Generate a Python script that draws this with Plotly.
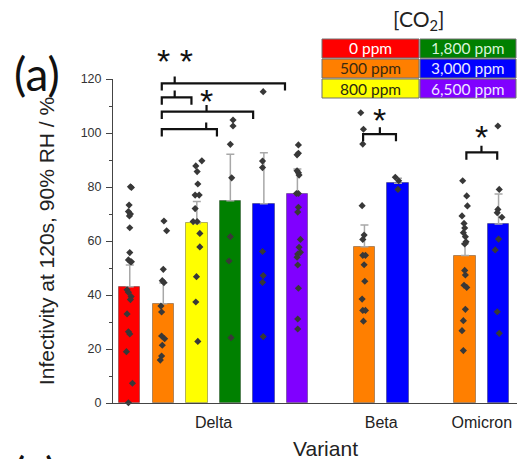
import plotly.graph_objects as go

# ---------------- data ----------------
variants = ["Delta", "Beta", "Omicron"]
conc_labels = ["0 ppm", "500 ppm", "800 ppm", "1,800 ppm", "3,000 ppm", "6,500 ppm"]
conc_colors = ["#FF0000", "#FF7F00", "#FFFF00", "#008000", "#0000FF", "#8000FF"]
legend_text_colors = ["#FFFFFF", "#3a2a10", "#2a2a10", "#d8f5d8", "#e8e8ff", "#f0e8ff"]

# concentrations (index into conc_labels) measured per variant
variant_conc = [[0, 1, 2, 3, 4, 5], [1, 4], [1, 4]]

# bar means and upper error per bar (in order Delta x6, Beta x2, Omicron x2)
bar_means = [43.1, 36.8, 66.5, 74.9, 73.8, 77.5, 57.9, 81.4, 54.6, 66.3]
bar_err = [8.0, 7.6, 8.1, 17.2, 18.9, 9.2, 8.0, 1.8, 4.5, 11.1]

# individual points per bar
pts = [
    [80.1, 79.8, 73.3, 70.9, 70.0, 69.3, 64.9, 55.7, 53.0, 52.3, 52.3, 41.9, 41.0, 39.4, 38.3, 33.0, 26.4, 25.6, 19.0, 7.3, 0.1],
    [67.4, 63.8, 49.5, 45.3, 44.6, 35.9, 33.7, 24.8, 23.8, 21.4, 17.4, 15.9],
    [89.7, 87.8, 85.7, 81.1, 77.0, 77.0, 72.0, 67.2, 67.2, 62.8, 57.8, 46.8, 37.4, 22.8],
    [104.8, 102.6, 95.8, 83.4, 61.6, 52.6, 24.2],
    [115.3, 89.6, 87.2, 56.1, 47.2, 44.7, 24.6],
    [95.6, 92.5, 91.9, 86.0, 85.3, 84.4, 77.6, 77.6, 72.5, 70.7, 60.6, 57.7, 55.8, 55.2, 54.0, 51.1, 42.5, 31.1, 27.4],
    [107.5, 101.4, 95.9, 73.1, 62.2, 60.6, 54.7, 54.7, 51.2, 45.1, 38.5, 34.3, 34.3, 30.3],
    [83.6, 82.3, 79.1],
    [82.3, 76.7, 73.0, 69.3, 66.5, 64.8, 63.1, 61.6, 59.7, 58.9, 49.1, 47.4, 43.6, 42.8, 34.7, 30.5, 26.8, 19.4],
    [102.6, 79.1, 71.7, 70.5, 68.8, 60.7, 56.7, 33.8, 25.8],
]
# horizontal jitter of each point (fraction of a bar slot)
jit = [
    [.02, .05, -.02, -.04, .02, -.01, 0, 0, -.04, .02, .05, -.08, -.04, .04, .02, -.08, -.04, 0, -.1, .08, -.04],
    [.02, .1, 0, -.03, .02, -.07, -.05, -.05, .04, -.03, -.05, -.09],
    [.15, -.03, .01, .03, -.05, .07, -.05, -.11, .01, .09, .09, -.01, -.03, .03],
    [.08, .08, 0, .04, 0, -.04, .02],
    [-.02, -.04, -.04, -.04, -.02, -.04, -.02],
    [.03, .03, -.01, -.01, .03, .05, -.03, .03, .03, .01, .09, .05, .09, .01, -.01, .01, .03, .01, .01],
    [-.11, -.03, -.05, -.07, -.01, -.05, -.05, .03, -.01, .01, -.07, -.05, .03, -.03],
    [-.08, .02, 0],
    [-.07, .05, .07, -.09, -.03, -.01, -.05, .01, .03, -.01, -.01, .01, -.03, .05, .01, -.05, -.09, -.05],
    [-.02, .02, -.02, -.04, .1, 0, -.1, -.04, .02],
]

# significance brackets: (x_left, x_right, x_tick, y_level, label, label_y)
brackets = [
    (0.955, 4.63, 1.34, 118.4, "* *", 126.5),
    (0.955, 1.84, 1.34, 113.2, "", None),
    (0.955, 3.68, 2.29, 107.9, "*", 111.8),
    (0.955, 2.60, 2.28, 101.4, "", None),
    (6.96, 7.94, 7.46, 99.6, "*", 105.0),
    (10.04, 10.96, 10.49, 92.8, "*", 98.6),
]

# ---------------- layout geometry ----------------
W, H = 519, 459
L, R, T, B = 113, 2, 79, 56
PW, PH = W - L - R, H - T - B
YMAX = 120.0


def px_x(px):
    return (px - L) / PW


def px_y(py):
    return (H - B - py) / PH


def val_y(v):
    return v / YMAX


# bar positions (slots), one empty slot between variants
xpos, bar_cols, tickvals = [], [], []
slot = 0
for vi, concs in enumerate(variant_conc):
    start = slot
    for c in concs:
        xpos.append(slot)
        bar_cols.append(conc_colors[c])
        slot += 1
    tickvals.append((start + slot - 1) / 2)
    slot += 1

fig = go.Figure()
fig.add_trace(go.Bar(
    x=xpos, y=bar_means, width=0.64,
    marker=dict(color=bar_cols, line=dict(color="rgba(0,0,0,0.3)", width=1)),
    error_y=dict(type="data", symmetric=False, array=bar_err, arrayminus=[0] * len(bar_err),
                 color="#a8a8a8", thickness=1.5, width=4),
    showlegend=False, hoverinfo="skip",
))

for i, (vals, js) in enumerate(zip(pts, jit)):
    fig.add_trace(go.Scatter(
        x=[xpos[i] + j for j in js], y=vals, mode="markers",
        marker=dict(symbol="diamond", size=5.5, color="#383838"),
        cliponaxis=False, showlegend=False, hoverinfo="skip",
    ))

shapes = []
annotations = []
drop, rise = 2.7, 2.5
for (x0, x1, xt, yl, lab, ly) in brackets:
    path = (f"M {x0},{val_y(yl - drop)} L {x0},{val_y(yl)} L {x1},{val_y(yl)} L {x1},{val_y(yl - drop)} "
            f"M {xt},{val_y(yl)} L {xt},{val_y(yl + rise)}")
    shapes.append(dict(type="path", xref="x", yref="paper", path=path,
                       line=dict(color="#111111", width=2.2)))
    if lab:
        annotations.append(dict(x=xt, y=val_y(ly), xref="x", yref="paper", text=lab,
                                showarrow=False, xanchor="center", yanchor="middle",
                                font=dict(family="Liberation Sans", size=34, color="#111111")))

# legend grid (top right)
col_x = [(322, 419), (420, 516)]
row_y = [(39, 58), (59, 78), (79, 98)]
for k, (lab, col, tcol) in enumerate(zip(conc_labels, conc_colors, legend_text_colors)):
    c = 0 if k < 3 else 1
    r = k % 3
    xa, xb = col_x[c]
    ya, yb = row_y[r]
    shapes.append(dict(type="rect", xref="paper", yref="paper",
                       x0=px_x(xa), x1=px_x(xb), y0=px_y(yb), y1=px_y(ya),
                       fillcolor=col, line=dict(color="#707070", width=1)))
    annotations.append(dict(x=px_x((xa + xb) / 2), y=px_y((ya + yb) / 2), xref="paper", yref="paper",
                            text=lab, showarrow=False, xanchor="center", yanchor="middle",
                            font=dict(family="Lato", size=15.5, color=tcol)))

annotations.append(dict(x=px_x(418), y=px_y(20), xref="paper", yref="paper",
                        text="[CO<sub>2</sub>]", showarrow=False, xanchor="center", yanchor="middle",
                        font=dict(family="Lato", size=21, color="#222222")))
annotations.append(dict(x=px_x(37), y=px_y(74), xref="paper", yref="paper",
                        text="(a)", showarrow=False, xanchor="center", yanchor="middle",
                        font=dict(family="Lato", size=46, color="#111111")))
annotations.append(dict(x=px_x(35), y=px_y(444), xref="paper", yref="paper",
                        text="(c)", showarrow=False, xanchor="center", yanchor="top",
                        font=dict(family="Lato", size=46, color="#111111")))
annotations.append(dict(x=px_x(325), y=px_y(448), xref="paper", yref="paper",
                        text="Variant", showarrow=False, xanchor="center", yanchor="middle",
                        font=dict(family="Liberation Sans", size=21, color="#222222")))

fig.update_layout(
    width=W, height=H,
    margin=dict(l=L, r=R, t=T, b=B),
    paper_bgcolor="white", plot_bgcolor="white",
    shapes=shapes, annotations=annotations,
    bargap=0,
    xaxis=dict(range=[-0.5, 11.55], tickvals=tickvals, ticktext=variants,
               showline=True, linecolor="#444444", linewidth=1, ticks="",
               showgrid=False, zeroline=False, ticklabelstandoff=5,
               tickfont=dict(family="Liberation Sans", size=16, color="#222222")),
    yaxis=dict(range=[0, YMAX], dtick=20, tick0=0, showline=True, linecolor="#444444", linewidth=1,
               ticks="outside", ticklen=6, tickcolor="#444444", showgrid=False, zeroline=False,
               minor=dict(dtick=10, ticks="outside", ticklen=3, tickcolor="#444444"),
               ticklabelstandoff=2,
               tickfont=dict(family="Liberation Sans", size=12.5, color="#333333"),
               title=dict(text="Infectivity at 120s, 90% RH / %", standoff=20,
                          font=dict(family="Liberation Sans", size=21, color="#222222"))),
)

fig.write_html("out.html", config={"displayModeBar": False},
               post_script="document.body.style.margin='0';document.body.style.overflow='hidden';")
